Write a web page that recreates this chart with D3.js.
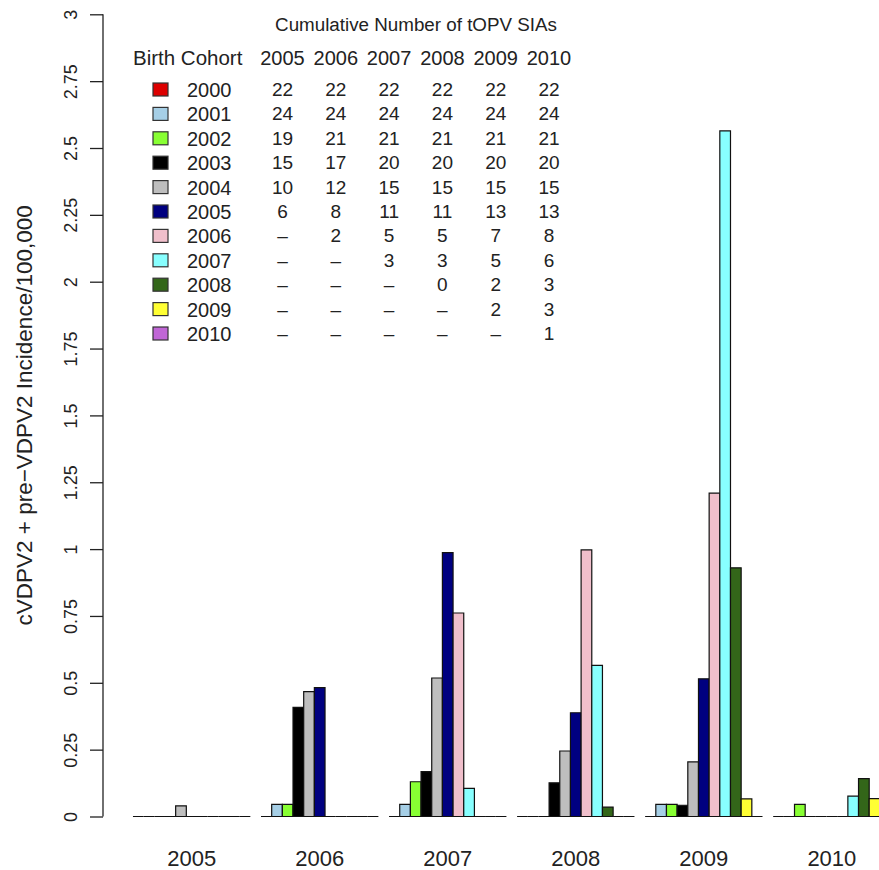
<!DOCTYPE html>
<html>
<head>
<meta charset="utf-8">
<script src="https://cdn.jsdelivr.net/npm/d3@7"></script>
<style>
  html, body { margin: 0; padding: 0; background: #fff; }
  svg { display: block; font-family: "Liberation Sans", Arial, sans-serif; }
</style>
</head>
<body>
<div class="svg-div"></div>
<script>
// years on the x axis (calendar year of incidence)
var years = ["2005", "2006", "2007", "2008", "2009", "2010"]
var cohorts = ["2000", "2001", "2002", "2003", "2004", "2005", "2006", "2007", "2008", "2009", "2010"]
var cohortColors = ["#dd0000", "#a6cfe6", "#88ff33", "#000000", "#bebebe", "#000080",
                    "#f0bfcb", "#88ffff", "#336619", "#ffff33", "#c066d6"]

// incidence per 100,000 by birth cohort, one value per year
var inc2000 = [0, 0, 0, 0, 0, 0]
var inc2001 = [0, 0.045, 0.045, 0, 0.045, 0]
var inc2002 = [0, 0.045, 0.13, 0, 0.045, 0.045]
var inc2003 = [0, 0.408, 0.168, 0.126, 0.042, 0]
var inc2004 = [0.04, 0.467, 0.518, 0.245, 0.204, 0]
var inc2005 = [0, 0.482, 0.987, 0.388, 0.515, 0]
var inc2006 = [0, 0, 0.761, 0.997, 1.209, 0]
var inc2007 = [0, 0, 0.105, 0.565, 2.564, 0.076]
var inc2008 = [0, 0, 0, 0.035, 0.93, 0.142]
var inc2009 = [0, 0, 0, 0, 0.066, 0.067]
var inc2010 = [0, 0, 0, 0, 0, 0]
var incidence = [inc2000, inc2001, inc2002, inc2003, inc2004, inc2005,
                 inc2006, inc2007, inc2008, inc2009, inc2010]

// cumulative number of tOPV SIAs (null = dash)
var sia2000 = [22, 22, 22, 22, 22, 22]
var sia2001 = [24, 24, 24, 24, 24, 24]
var sia2002 = [19, 21, 21, 21, 21, 21]
var sia2003 = [15, 17, 20, 20, 20, 20]
var sia2004 = [10, 12, 15, 15, 15, 15]
var sia2005 = [6, 8, 11, 11, 13, 13]
var sia2006 = [null, 2, 5, 5, 7, 8]
var sia2007 = [null, null, 3, 3, 5, 6]
var sia2008 = [null, null, null, 0, 2, 3]
var sia2009 = [null, null, null, null, 2, 3]
var sia2010 = [null, null, null, null, null, 1]
var sias = [sia2000, sia2001, sia2002, sia2003, sia2004, sia2005,
            sia2006, sia2007, sia2008, sia2009, sia2010]

var yTicks = [0, 0.25, 0.5, 0.75, 1, 1.25, 1.5, 1.75, 2, 2.25, 2.5, 2.75, 3]

var width = 879, height = 870
var barW = 10.67
var plotLeft = 122.3

var svg = d3.select(".svg-div").append("svg")
    .attr("width", width)
    .attr("height", height)

var yScale = d3.scaleLinear().domain([0, 3]).range([816.5, 14.3])

// one band per year, one bar width of space before each group
var xGroup = d3.scaleBand()
    .domain(years)
    .range([plotLeft, plotLeft + 72 * barW])
    .paddingInner(1 / 12)
    .paddingOuter(1 / 24)
    .align(1)
var xBar = d3.scaleBand()
    .domain(cohorts)
    .range([0, xGroup.bandwidth()])

// bars (zero bars still draw their border as a flat line, like R)
var bars = []
for (var c = 0; c < cohorts.length; c++) {
    for (var g = 0; g < years.length; g++) {
        bars.push({year: years[g], cohort: cohorts[c], color: cohortColors[c], value: incidence[c][g]})
    }
}
svg.append("g").attr("class", "g-bars")
    .selectAll("path")
    .data(bars)
    .join("path")
    .attr("d", function(d) {
        var x0 = xGroup(d.year) + xBar(d.cohort)
        var x1 = x0 + xBar.bandwidth()
        var y0 = yScale(0), y1 = yScale(d.value)
        return "M" + x0 + "," + y0 + "V" + y1 + "H" + x1 + "V" + y0 + "Z"
    })
    .attr("fill", d => d.color)
    .attr("stroke", "#111")
    .attr("stroke-width", 1.2)

// y axis
var yAxis = d3.axisLeft(yScale)
    .tickValues(yTicks)
    .tickSize(13)
    .tickFormat(d3.format("~g"))
var gy = svg.append("g")
    .attr("transform", "translate(103,0)")
    .call(yAxis)
gy.select(".domain")
    .attr("d", "M0," + yScale(0) + "V" + yScale(3))
    .attr("stroke", "#222")
    .attr("stroke-width", 1.3)
gy.selectAll(".tick line").attr("stroke", "#222").attr("stroke-width", 1.3)
gy.selectAll(".tick text")
    .attr("x", null).attr("dy", null)
    .attr("transform", "translate(-26,0) rotate(-90)")
    .attr("text-anchor", "middle")
    .attr("font-size", 18)
    .attr("font-family", "Liberation Sans, Arial, sans-serif")
    .attr("fill", "#222")

svg.append("text")
    .attr("transform", "translate(32," + yScale(1.5) + ") rotate(-90)")
    .attr("text-anchor", "middle")
    .attr("font-size", 22.5)
    .attr("fill", "#222")
    .text("cVDPV2 + pre\u2212VDPV2 Incidence/100,000")

// x labels
svg.append("g").selectAll("text")
    .data(years)
    .join("text")
    .attr("x", d => xGroup(d) + xGroup.bandwidth() / 2)
    .attr("y", 866)
    .attr("text-anchor", "middle")
    .attr("font-size", 22)
    .attr("fill", "#222")
    .text(d => d)

// legend table
var rowY = d3.scaleLinear().domain([0, 10]).range([97, 341])
var colX = d3.scaleLinear().domain([0, 5]).range([282.5, 549])
var legend = svg.append("g").attr("class", "g-legend").attr("fill", "#222")

legend.append("text")
    .attr("x", 416).attr("y", 31)
    .attr("text-anchor", "middle")
    .attr("font-size", 18.8)
    .text("Cumulative Number of tOPV SIAs")
legend.append("text")
    .attr("x", 133).attr("y", 65)
    .attr("font-size", 20.5)
    .text("Birth Cohort")
legend.selectAll(".colhead")
    .data(years)
    .join("text")
    .attr("class", "colhead")
    .attr("x", (d, i) => colX(i)).attr("y", 65)
    .attr("text-anchor", "middle")
    .attr("font-size", 20)
    .text(d => d)

var rows = legend.selectAll(".row")
    .data(cohorts)
    .join("g")
    .attr("class", "row")
    .attr("transform", (d, i) => "translate(0," + rowY(i) + ")")
rows.append("rect")
    .attr("x", 153).attr("y", -14)
    .attr("width", 15).attr("height", 13)
    .attr("fill", (d, i) => cohortColors[i])
    .attr("stroke", "#333")
    .attr("stroke-width", 1.2)
rows.append("text")
    .attr("x", 187).attr("y", 0)
    .attr("font-size", 20)
    .text(d => d)
rows.selectAll(".val")
    .data((d, i) => sias[i])
    .join("text")
    .attr("class", "val")
    .attr("x", (d, i) => colX(i)).attr("y", -1)
    .attr("text-anchor", "middle")
    .attr("font-size", 19)
    .text(d => d === null ? "\u2013" : d)
</script>
</body>
</html>
